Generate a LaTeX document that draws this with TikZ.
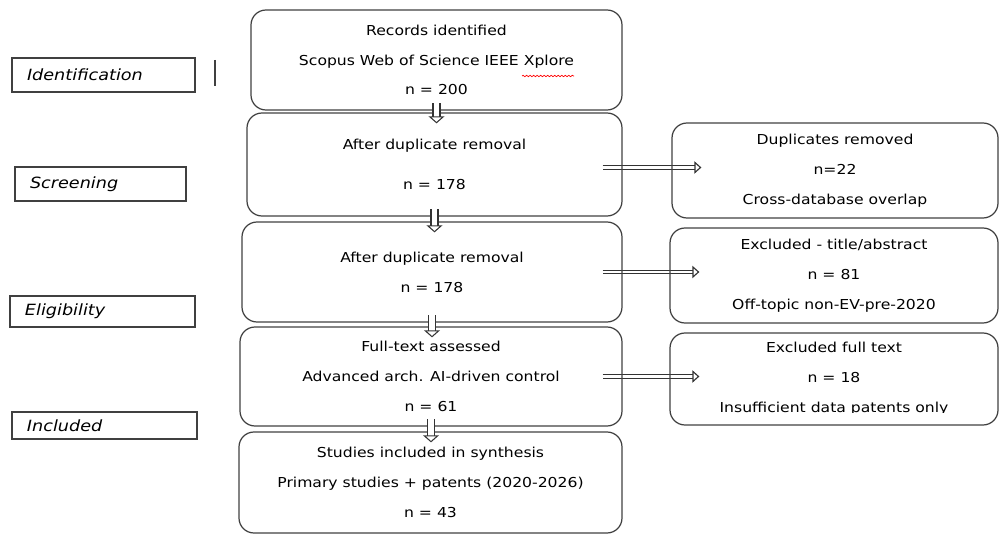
\documentclass[tikz,border=0pt]{standalone}
\usepackage{fontspec}
\setmainfont[FakeStretch=1.14]{DejaVu Sans}
\usepackage{tikz}
\usetikzlibrary{arrows.meta,calc,backgrounds,decorations.pathmorphing}

\tikzset{
    flowbox/.style={draw=black!75, line width=0.7pt, rounded corners=0.3cm, align=center, inner sep=0pt},
    phasebox/.style={draw=black!75, line width=0.6pt, align=left, inner xsep=0.3cm, inner ysep=0pt, font=\fontsize{8.8}{10}\selectfont\itshape},
    downarrow/.style={draw=black!80, double=white, double distance=3.4pt, line width=0.6pt, -{Triangle[open, width=9pt, length=4pt]}},
    sidearrow/.style={draw=black!80, double=white, double distance=1.5pt, line width=0.65pt, -{Triangle[open, width=7pt, length=4pt]}}
}

\begin{document}
\begin{tikzpicture}[font=\fontsize{7.8}{17}\selectfont]
    \useasboundingbox (0,0) rectangle (20,10.68);

    % Phase labels
    \node[phasebox, text width=3.06cm, minimum height=0.68cm] (ident) at (2.07,9.18) {Identification};
    \node[phasebox, text width=2.82cm, minimum height=0.68cm] (screen) at (2.01,7.0) {Screening};
    \node[phasebox, text width=3.1cm, minimum height=0.62cm] (elig) at (2.05,4.45) {Eligibility};
    \node[phasebox, text width=3.1cm, minimum height=0.54cm] (incl) at (2.09,2.17) {Included};
    \draw[black!75, line width=0.6pt] (4.3,9.48) -- (4.3,8.96);

    % Main flow
    \node[flowbox, minimum width=7.42cm, minimum height=2.0cm] (records) at (8.73,9.48)
        {Records identified\\Scopus Web of Science IEEE Xplore\\n = 200};
    \draw[red, decorate, decoration={snake, amplitude=0.4pt, segment length=2pt}] (10.44,9.16) -- (11.48,9.16);
    \node[flowbox, minimum width=7.5cm, minimum height=2.06cm] (dedup) at (8.69,7.39)
        {After duplicate removal\\[0.2cm]n = 178};
    \node[flowbox, minimum width=7.6cm, minimum height=2.0cm] (screened) at (8.64,5.24)
        {After duplicate removal\\n = 178};
    \node[flowbox, minimum width=7.64cm, minimum height=1.98cm] (fulltext) at (8.62,3.15)
        {Full-text assessed\\Advanced arch. AI-driven control\\n = 61};
    \node[flowbox, minimum width=7.66cm, minimum height=2.02cm] (included) at (8.61,1.03)
        {Studies included in synthesis\\Primary studies + patents (2020-2026)\\n = 43};

    % Exclusions
    \node[flowbox, minimum width=6.52cm, minimum height=1.9cm] (dupes) at (16.7,7.27)
        {Duplicates removed\\n=22\\Cross-database overlap};
    \node[flowbox, minimum width=6.56cm, minimum height=1.9cm] (titleabs) at (16.68,5.17)
        {Excluded - title/abstract\\n = 81\\Off-topic non-EV-pre-2020};
    \node[flowbox, minimum width=6.56cm, minimum height=1.84cm] (fullexcl) at (16.68,3.10) {};
    \begin{scope}
        \clip (13.5,2.42) rectangle (19.9,4.2);
        \node[align=center] (fullexcltext) at (fullexcl) {Excluded full text\\n = 18\\Insufficient data patents only};
    \end{scope}

    % Down arrows
    \draw[downarrow] ([yshift=0.15cm]records.south) -- ($(records.south |- dedup.north)+(0,-0.22)$);
    \draw[downarrow] ([yshift=0.15cm]dedup.south) -- ($(dedup.south |- screened.north)+(0,-0.22)$);
    \draw[downarrow] ([yshift=0.15cm]screened.south) -- ($(screened.south |- fulltext.north)+(0,-0.22)$);
    \draw[downarrow] ([yshift=0.15cm]fulltext.south) -- ($(fulltext.south |- included.north)+(0,-0.22)$);

    % Side arrows (under the boxes)
    \begin{scope}[on background layer]
        \draw[sidearrow] ([xshift=-0.4cm,yshift=-0.06cm]dedup.east) -- ($(dedup.east -| dupes.west)+(0.6,-0.06)$);
        \draw[sidearrow] ([xshift=-0.4cm]screened.east) -- ($(screened.east -| titleabs.west)+(0.6,0)$);
        \draw[sidearrow] ([xshift=-0.4cm]fulltext.east) -- ($(fulltext.east -| fullexcl.west)+(0.6,0)$);
    \end{scope}
\end{tikzpicture}
\end{document}
